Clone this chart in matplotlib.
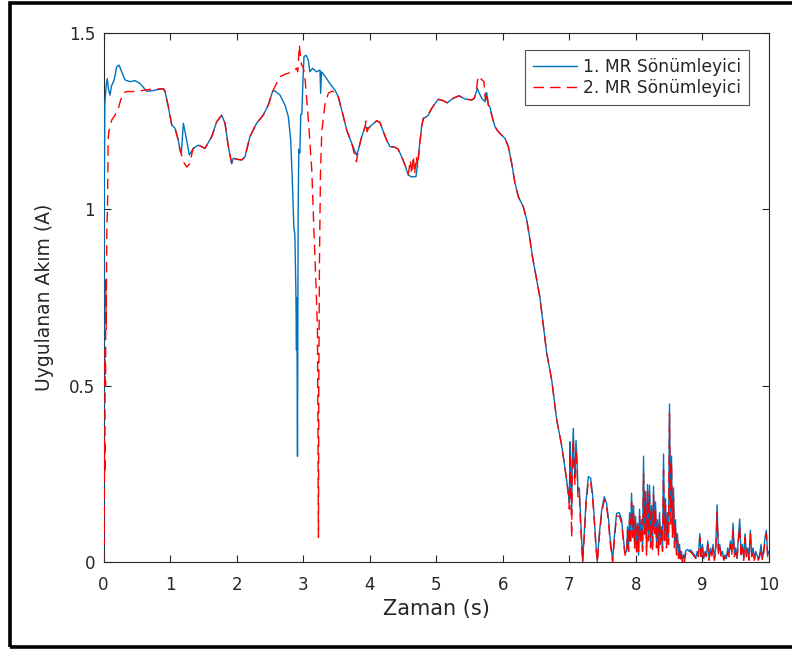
import numpy as np
import matplotlib
matplotlib.use("Agg")
import matplotlib.pyplot as plt
from matplotlib.patches import Rectangle

# ---------------- data ----------------
blue_t = [0.0, 0.005, 0.01, 0.02, 0.04, 0.057, 0.075, 0.098, 0.12, 0.138, 0.16, 0.198, 0.233, 0.273,
          0.323, 0.398, 0.473, 0.548, 0.649, 0.724, 0.83, 0.899, 0.924, 0.974, 1.025, 1.074, 1.124,
          1.15, 1.17, 1.2, 1.24, 1.29, 1.35, 1.425, 1.525, 1.626, 1.70, 1.776, 1.826, 1.876, 1.926,
          1.951, 2.0, 2.076, 2.126, 2.2, 2.30, 2.40, 2.477, 2.54, 2.577, 2.652, 2.727, 2.777, 2.813,
          2.837, 2.86, 2.875, 2.89, 2.90, 2.905, 2.915, 2.925, 2.935, 2.95, 2.965, 2.98, 3.0, 3.013,
          3.043, 3.078, 3.10, 3.143, 3.2, 3.253, 3.263, 3.275, 3.293, 3.353, 3.40, 3.478, 3.528,
          3.579, 3.654, 3.73, 3.80, 3.829, 3.88, 3.93, 3.98, 4.03, 4.105, 4.155, 4.205, 4.255, 4.305,
          4.38, 4.43, 4.48, 4.53, 4.58, 4.63, 4.696, 4.73, 4.78, 4.806, 4.856, 4.88, 4.93, 5.03,
          5.106, 5.166, 5.256, 5.342, 5.432, 5.533, 5.572, 5.617, 5.647, 5.683, 5.733, 5.745, 5.758,
          5.782, 5.808, 5.833, 5.883, 5.933, 5.958, 6.033, 6.083, 6.134, 6.183, 6.233, 6.308, 6.36,
          6.409, 6.45, 6.50, 6.559, 6.66, 6.735, 6.81, 6.885, 6.96, 6.99, 7.0, 7.01, 7.02, 7.035,
          7.045, 7.06, 7.07, 7.085, 7.10, 7.115, 7.13, 7.15, 7.17, 7.20, 7.23, 7.25, 7.285, 7.32,
          7.345, 7.37, 7.40, 7.42, 7.45, 7.486, 7.525, 7.56, 7.59, 7.61, 7.65, 7.68, 7.71, 7.75,
          7.786, 7.81, 7.836]
blue_v = [0.0, 0.4, 1.0, 1.30, 1.35, 1.371, 1.34, 1.324, 1.35, 1.357, 1.367, 1.404, 1.409, 1.39,
          1.367, 1.362, 1.365, 1.357, 1.335, 1.336, 1.34, 1.342, 1.335, 1.291, 1.239, 1.23, 1.196,
          1.168, 1.16, 1.244, 1.206, 1.154, 1.173, 1.182, 1.173, 1.206, 1.248, 1.267, 1.244, 1.178,
          1.13, 1.145, 1.142, 1.14, 1.149, 1.206, 1.244, 1.267, 1.296, 1.334, 1.336, 1.324, 1.296,
          1.263, 1.196, 1.083, 0.95, 0.93, 0.78, 0.60, 0.75, 0.30, 1.0, 1.17, 1.16, 1.27, 1.27,
          1.38, 1.433, 1.437, 1.423, 1.39, 1.40, 1.39, 1.395, 1.329, 1.39, 1.386, 1.371, 1.357,
          1.338, 1.319, 1.282, 1.225, 1.187, 1.154, 1.168, 1.206, 1.234, 1.23, 1.239, 1.251, 1.246,
          1.22, 1.196, 1.178, 1.176, 1.17, 1.149, 1.126, 1.097, 1.092, 1.093, 1.149, 1.234, 1.258,
          1.263, 1.267, 1.286, 1.312, 1.308, 1.302, 1.315, 1.322, 1.313, 1.31, 1.315, 1.343, 1.329,
          1.315, 1.305, 1.33, 1.331, 1.296, 1.29, 1.267, 1.234, 1.22, 1.215, 1.201, 1.178, 1.13,
          1.074, 1.036, 1.007, 0.97, 0.913, 0.861, 0.81, 0.748, 0.592, 0.516, 0.403, 0.33, 0.232,
          0.19, 0.17, 0.341, 0.25, 0.14, 0.30, 0.379, 0.28, 0.25, 0.345, 0.29, 0.20, 0.21, 0.12,
          0.0, 0.10, 0.17, 0.242, 0.238, 0.20, 0.138, 0.05, 0.0, 0.08, 0.147, 0.185, 0.166, 0.12,
          0.072, 0.006, 0.08, 0.138, 0.14, 0.119, 0.07, 0.025]

red_t = [0.0, 0.005, 0.01, 0.015, 0.02, 0.025, 0.03, 0.035, 0.04, 0.05, 0.06, 0.07, 0.08, 0.123,
         0.173, 0.223, 0.258, 0.30, 0.348, 0.448, 0.548, 0.699, 0.899, 0.924, 0.974, 1.025, 1.074,
         1.124, 1.15, 1.2, 1.25, 1.30, 1.33, 1.35, 1.425, 1.525, 1.626, 1.70, 1.776, 1.826, 1.876,
         1.926, 1.951, 2.0, 2.076, 2.126, 2.2, 2.30, 2.40, 2.477, 2.54, 2.60, 2.652, 2.727, 2.777,
         2.875, 2.90, 2.92, 2.943, 2.96, 2.975, 3.0, 3.03, 3.08, 3.13, 3.16, 3.19, 3.215, 3.225,
         3.23, 3.235, 3.245, 3.26, 3.28, 3.33, 3.38, 3.44, 3.5, 3.528, 3.579, 3.654, 3.73, 3.80,
         3.829, 3.88, 3.93, 3.944, 3.96, 3.98, 4.03, 4.105, 4.155, 4.205, 4.255, 4.305, 4.38, 4.43,
         4.48, 4.53, 4.58, 4.61, 4.63, 4.655, 4.675, 4.70, 4.72, 4.75, 4.78, 4.806, 4.856, 4.88,
         4.93, 5.03, 5.106, 5.166, 5.256, 5.342, 5.432, 5.533, 5.572, 5.60, 5.617, 5.632, 5.67,
         5.718, 5.725, 5.745, 5.76, 5.782, 5.808, 5.833, 5.883, 5.933, 5.958, 6.033, 6.083, 6.134,
         6.183, 6.233, 6.308, 6.36, 6.409, 6.45, 6.50, 6.559, 6.66, 6.735, 6.81, 6.885, 6.96, 6.99,
         7.0, 7.01, 7.02, 7.035, 7.045, 7.06, 7.07, 7.085, 7.10, 7.115, 7.13, 7.15, 7.17, 7.20,
         7.23, 7.25, 7.285, 7.32, 7.345, 7.37, 7.40, 7.42, 7.45, 7.486, 7.525, 7.56, 7.59, 7.61,
         7.65, 7.68, 7.71, 7.75, 7.786, 7.81, 7.836]
red_v = [0.0, 0.15, 0.05, 0.35, 0.25, 0.6, 0.5, 0.8, 0.66, 0.95, 1.0, 1.2, 1.22, 1.253, 1.267,
         1.286, 1.31, 1.33, 1.334, 1.334, 1.336, 1.34, 1.342, 1.335, 1.291, 1.239, 1.23, 1.196,
         1.168, 1.135, 1.12, 1.13, 1.16, 1.173, 1.182, 1.173, 1.206, 1.248, 1.267, 1.244, 1.178,
         1.13, 1.145, 1.142, 1.14, 1.149, 1.206, 1.244, 1.267, 1.296, 1.334, 1.357, 1.376, 1.383,
         1.386, 1.395, 1.40, 1.39, 1.466, 1.433, 1.41, 1.404, 1.367, 1.25, 1.11, 0.95, 0.80, 0.66,
         0.3, 0.07, 0.5, 0.85, 1.10, 1.22, 1.30, 1.33, 1.335, 1.33, 1.319, 1.282, 1.225, 1.187,
         1.135, 1.168, 1.206, 1.234, 1.25, 1.22, 1.23, 1.239, 1.251, 1.246, 1.22, 1.196, 1.178,
         1.176, 1.17, 1.149, 1.126, 1.10, 1.14, 1.10, 1.151, 1.10, 1.149, 1.12, 1.18, 1.234, 1.258,
         1.263, 1.267, 1.286, 1.312, 1.308, 1.302, 1.315, 1.322, 1.313, 1.31, 1.315, 1.33, 1.36,
         1.378, 1.37, 1.362, 1.33, 1.31, 1.33, 1.296, 1.29, 1.267, 1.234, 1.22, 1.215, 1.201, 1.178,
         1.13, 1.074, 1.036, 1.007, 0.97, 0.913, 0.861, 0.81, 0.748, 0.592, 0.516, 0.403, 0.33,
         0.232, 0.18, 0.15, 0.31, 0.22, 0.07, 0.27, 0.35, 0.26, 0.22, 0.32, 0.27, 0.18, 0.19, 0.10,
         0.0, 0.09, 0.16, 0.23, 0.225, 0.19, 0.13, 0.04, 0.0, 0.07, 0.14, 0.175, 0.155, 0.11, 0.06,
         0.0, 0.07, 0.13, 0.13, 0.11, 0.06, 0.02]

# densely oscillating part (uniform sampling)
dense_start, dense_step = 7.86, 0.015
blue_dense = [0.03, 0.10, 0.04, 0.14, 0.06, 0.195, 0.08, 0.16, 0.05, 0.13, 0.03, 0.11, 0.02, 0.15,
              0.06, 0.12, 0.04, 0.30, 0.08, 0.20, 0.03, 0.22, 0.07, 0.218, 0.05, 0.16, 0.04, 0.215,
              0.09, 0.17, 0.05, 0.12, 0.03, 0.14, 0.06, 0.10, 0.04, 0.306, 0.07, 0.18, 0.05, 0.14,
              0.06, 0.448, 0.12, 0.30, 0.08, 0.21, 0.05, 0.12, 0.03, 0.08, 0.02, 0.05, 0.01, 0.03,
              0.0, 0.02, 0.01, 0.03]
red_dense = [0.02, 0.09, 0.03, 0.12, 0.05, 0.17, 0.07, 0.14, 0.04, 0.12, 0.02, 0.10, 0.03, 0.13,
             0.05, 0.10, 0.03, 0.25, 0.07, 0.18, 0.02, 0.20, 0.06, 0.19, 0.04, 0.14, 0.03, 0.19,
             0.08, 0.15, 0.04, 0.11, 0.02, 0.12, 0.05, 0.09, 0.03, 0.26, 0.06, 0.16, 0.04, 0.12,
             0.05, 0.42, 0.10, 0.28, 0.07, 0.18, 0.04, 0.10, 0.02, 0.06, 0.01, 0.04, 0.0, 0.02,
             0.0, 0.01, 0.0, 0.02]

tail_start, tail_step = 8.76, 0.02
blue_tail = [0.034, 0.035, 0.03, 0.035, 0.03, 0.025, 0.02, 0.01, 0.03, 0.02, 0.08, 0.02, 0.05,
             0.01, 0.03, 0.02, 0.06, 0.01, 0.04, 0.02, 0.05, 0.01, 0.04, 0.162, 0.03, 0.05, 0.02,
             0.03, 0.01, 0.02, 0.01, 0.04, 0.02, 0.06, 0.03, 0.11, 0.02, 0.04, 0.01, 0.07, 0.122,
             0.02, 0.05, 0.01, 0.08, 0.02, 0.04, 0.01, 0.09, 0.02, 0.04, 0.01, 0.03, 0.02, 0.01,
             0.02, 0.05, 0.01, 0.03, 0.07, 0.09, 0.02, 0.03]
red_tail = [0.03, 0.03, 0.025, 0.03, 0.025, 0.02, 0.015, 0.01, 0.025, 0.015, 0.07, 0.015, 0.04,
            0.005, 0.025, 0.015, 0.05, 0.005, 0.03, 0.015, 0.04, 0.005, 0.03, 0.14, 0.02, 0.04,
            0.015, 0.025, 0.005, 0.015, 0.005, 0.03, 0.015, 0.05, 0.02, 0.09, 0.015, 0.03, 0.005,
            0.06, 0.10, 0.015, 0.04, 0.005, 0.07, 0.015, 0.03, 0.005, 0.08, 0.015, 0.03, 0.005,
            0.025, 0.015, 0.005, 0.015, 0.04, 0.005, 0.025, 0.06, 0.08, 0.015, 0.02]

series_labels = ["1. MR Sönümleyici", "2. MR Sönümleyici"]
x_label = "Zaman (s)"
y_label = "Uygulanan Akım (A)"
x_ticks = list(range(0, 11))
y_ticks = [0, 0.5, 1, 1.5]
y_tick_labels = ["0", "0.5", "1", "1.5"]


def assemble(t_main, v_main, dense, tail):
    t_d = dense_start + dense_step * np.arange(len(dense))
    t_t = tail_start + tail_step * np.arange(len(tail))
    t = np.concatenate([t_main, t_d, t_t])
    v = np.concatenate([v_main, dense, tail])
    return t, v


bt, bv = assemble(blue_t, blue_v, blue_dense, blue_tail)
rt, rv = assemble(red_t, red_v, red_dense, red_tail)

# ---------------- plot ----------------
plt.rcParams['font.family'] = ['DejaVu Sans']
fig = plt.figure(figsize=(7.92, 6.49), dpi=100)
W, H = 792, 649
ax = fig.add_axes([103.5 / W, (H - 562) / H, (769 - 103.5) / W, (562 - 33) / H])

ax.plot(bt, bv, color='#0072BD', lw=1.0, label=series_labels[0], zorder=3)
ax.plot(rt, rv, color='#FF0000', lw=1.0, ls=(0, (7.5, 4.5)), label=series_labels[1], zorder=4)

ax.set_xlim(0, 10)
ax.set_ylim(0, 1.5)
ax.set_xticks(x_ticks)
ax.set_xticklabels([str(x) for x in x_ticks])
ax.set_yticks(y_ticks)
ax.set_yticklabels(y_tick_labels)
dark = '#262626'
ax.tick_params(direction='in', length=5, width=0.8, top=True, right=True,
               labelsize=12, colors=dark)
ax.tick_params(axis='x', pad=10)
ax.tick_params(axis='y', pad=6)
for s in ax.spines.values():
    s.set_color(dark)
    s.set_linewidth(0.8)
ax.set_xlabel(x_label, fontsize=15, color=dark)
ax.set_ylabel(y_label, fontsize=13.5, color=dark)
ax.xaxis.set_label_coords(0.5, -0.070)
ax.yaxis.set_label_coords(-0.0744, 0.5)

leg = ax.legend(loc='upper right', bbox_to_anchor=(0.970, 0.968), fontsize=12.3,
                frameon=True, fancybox=False, edgecolor='#262626', handlelength=2.6,
                borderpad=0.45, labelspacing=0.2, handletextpad=0.35, borderaxespad=0)
leg.get_frame().set_linewidth(0.8)
for txt in leg.get_texts():
    txt.set_color('#262626')

# outer black frame
fig.patches.append(Rectangle((9.5 / W, 2.5 / H), (W + 10) / W, (H - 5) / H,
                             transform=fig.transFigure, fill=False, edgecolor='black',
                             lw=2.6, clip_on=False))

fig.savefig('out.png', dpi=100)
